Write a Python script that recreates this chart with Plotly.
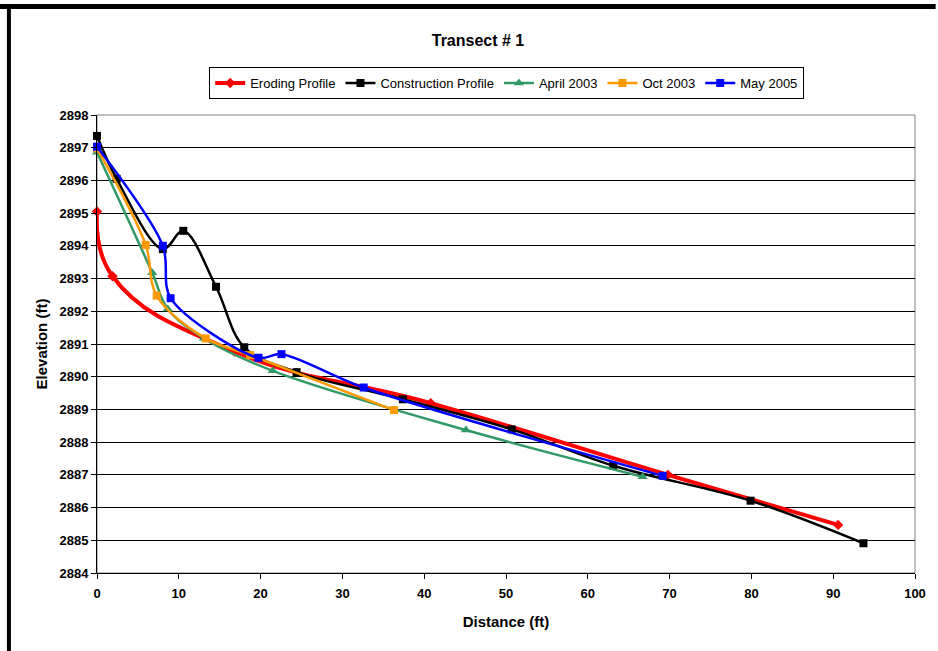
import plotly.graph_objects as go

# Survey profiles for Transect #1: distance from benchmark (ft) vs elevation (ft)
eroding_x = [0.0, 1.9, 16.8, 40.8, 69.8, 90.6]
eroding_y = [2895.05, 2893.07, 2890.77, 2889.19, 2887.0, 2885.47]

construction_x = [0.0, 2.4, 8.05, 10.55, 14.55, 18.0, 24.4, 37.4, 50.7, 63.1, 79.9, 93.7]
construction_y = [2897.36, 2896.05, 2893.9, 2894.46, 2892.75, 2890.9, 2890.14, 2889.31,
                  2888.39, 2887.28, 2886.21, 2884.91]

april2003_x = [0.0, 6.75, 8.65, 13.1, 21.5, 45.1, 66.7]
april2003_y = [2896.86, 2893.18, 2892.07, 2891.17, 2890.18, 2888.37, 2886.94]

oct2003_x = [0.0, 5.95, 7.3, 13.3, 18.7, 36.3]
oct2003_y = [2896.98, 2894.03, 2892.48, 2891.17, 2890.66, 2888.98]

may2005_x = [0.0, 8.05, 9.0, 19.75, 22.55, 32.6, 69.15]
may2005_y = [2897.03, 2894.0, 2892.4, 2890.58, 2890.69, 2889.67, 2886.97]

x_ticks = list(range(0, 101, 10))
y_ticks = list(range(2884, 2899, 1))

FONT = "Arial, Liberation Sans, sans-serif"

series = [
    ("Eroding Profile", eroding_x, eroding_y, "#FF0000", 4, "diamond", 8, 1.25),
    ("Construction Profile", construction_x, construction_y, "#000000", 2.5, "square", 8, 1.0),
    ("April 2003", april2003_x, april2003_y, "#339966", 2.5, "triangle-up", 9, 1.0),
    ("Oct 2003", oct2003_x, oct2003_y, "#FF9900", 2.5, "square", 8, 1.0),
    ("May 2005", may2005_x, may2005_y, "#0000FF", 2.5, "square", 8, 0.9),
]

fig = go.Figure()
for name, xs, ys, color, lw, sym, msize, smooth in series:
    fig.add_trace(go.Scatter(
        x=xs, y=ys, name=name, mode="lines+markers",
        line=dict(color=color, width=lw, shape="spline", smoothing=smooth),
        marker=dict(color=color, symbol=sym, size=msize, line=dict(width=0)),
        cliponaxis=False,
    ))

# Plot-area frame (gray) and the heavy outer border on top and left
fig.add_shape(type="rect", xref="x domain", yref="y domain", x0=0, x1=1, y0=0, y1=1,
              line=dict(color="#808080", width=1), layer="below")
W, H = 938, 651
L, R, T, B = 97.3, 917.3, 115, 572.7
pw, ph = R - L, B - T

def px_x(p):
    return (p - L) / pw

def px_y(p):
    return (B - p) / ph

fig.add_shape(type="rect", xref="paper", yref="paper",
              x0=px_x(0), x1=px_x(W), y0=px_y(9), y1=px_y(4),
              fillcolor="black", line=dict(width=0))
fig.add_shape(type="rect", xref="paper", yref="paper",
              x0=px_x(7), x1=px_x(11), y0=px_y(H + 2), y1=px_y(4),
              fillcolor="black", line=dict(width=0))

fig.update_layout(
    width=W, height=H,
    margin=dict(l=L, r=W - R, t=T, b=H - B, pad=0),
    paper_bgcolor="white", plot_bgcolor="white",
    font=dict(family=FONT, color="black"),
    title=dict(text="<b>Transect # 1</b>", font=dict(size=16, family=FONT),
               xref="container", yref="container", x=478 / W, y=1 - 40 / H,
               xanchor="center", yanchor="middle"),
    legend=dict(orientation="h", x=px_x(508), y=px_y(83), xanchor="center", yanchor="middle",
                bordercolor="black", borderwidth=1, font=dict(size=13, family=FONT),
                itemwidth=30, tracegroupgap=0),
    showlegend=True,
)
fig.update_xaxes(
    range=[0, 100], tickvals=x_ticks, ticktext=[f"<b>{v}</b>" for v in x_ticks],
    showgrid=False, zeroline=False, showline=True, linecolor="black", linewidth=1,
    ticks="outside", ticklen=5, tickcolor="black", tickfont=dict(size=13, family=FONT),
    ticklabelstandoff=3,
    title=dict(text="<b>Distance (ft)</b>", font=dict(size=15, family=FONT), standoff=16),
)
fig.update_yaxes(
    range=[2884, 2898], tickvals=y_ticks, ticktext=[f"<b>{v}</b>" for v in y_ticks],
    showgrid=True, gridcolor="black", gridwidth=1, zeroline=False,
    showline=True, linecolor="black", linewidth=1,
    ticks="outside", ticklen=5, tickcolor="black", tickfont=dict(size=13, family=FONT),
    title=dict(text="<b>Elevation (ft)</b>", font=dict(size=15, family=FONT), standoff=8),
)

fig.write_html("out.html")
